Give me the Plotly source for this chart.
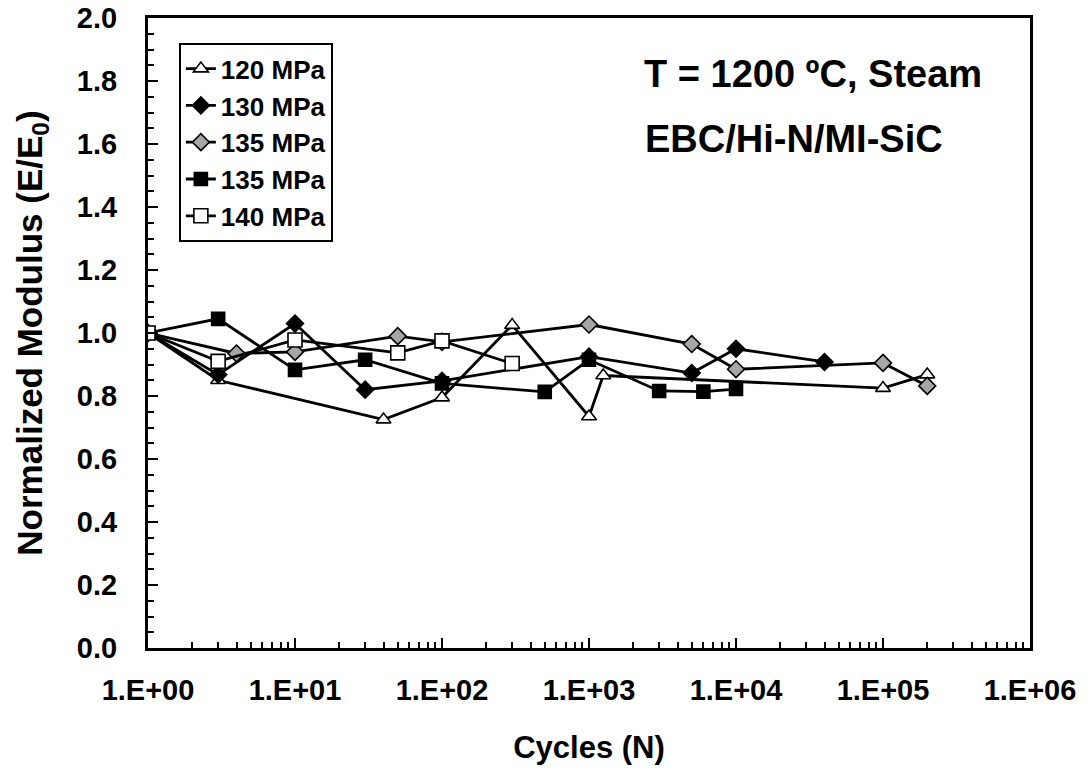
import plotly.graph_objects as go

# Normalized modulus vs. cycles for EBC/Hi-N/MI-SiC at 1200 °C in steam
cycles_120 = [1, 3, 40, 100, 300, 1000, 1250, 100000, 200000]
mod_120 = [1.0, 0.85, 0.725, 0.795, 1.025, 0.735, 0.865, 0.825, 0.868]

cycles_130 = [1, 3, 10, 30, 100, 1000, 5000, 10000, 40000]
mod_130 = [1.0, 0.868, 1.03, 0.82, 0.848, 0.925, 0.873, 0.95, 0.908]

cycles_135a = [1, 4, 10, 50, 100, 1000, 5000, 10000, 100000, 200000]
mod_135a = [1.0, 0.935, 0.94, 0.99, 0.972, 1.027, 0.965, 0.885, 0.905, 0.832]

cycles_135b = [1, 3, 10, 30, 100, 500, 1000, 3000, 6000, 10000]
mod_135b = [1.0, 1.045, 0.883, 0.915, 0.84, 0.813, 0.915, 0.816, 0.814, 0.822]

cycles_140 = [1, 3, 10, 50, 100, 300]
mod_140 = [1.0, 0.91, 0.978, 0.937, 0.975, 0.903]

x_tick_vals = [1, 10, 100, 1000, 10000, 100000, 1000000]
x_tick_text = ["1.E+00", "1.E+01", "1.E+02", "1.E+03", "1.E+04", "1.E+05", "1.E+06"]
y_tick_vals = [0.0, 0.2, 0.4, 0.6, 0.8, 1.0, 1.2, 1.4, 1.6, 1.8, 2.0]
y_tick_text = ["0.0", "0.2", "0.4", "0.6", "0.8", "1.0", "1.2", "1.4", "1.6", "1.8", "2.0"]

FONT = "Arial, Liberation Sans, sans-serif"

series = [
    ("120 MPa", cycles_120, mod_120, "triangle-up", "white", 13),
    ("130 MPa", cycles_130, mod_130, "diamond", "black", 13),
    ("135 MPa", cycles_135a, mod_135a, "diamond", "#a6a6a6", 13),
    ("135 MPa", cycles_135b, mod_135b, "square", "black", 13),
    ("140 MPa", cycles_140, mod_140, "square", "white", 14),
]

fig = go.Figure()
for name, xs, ys, sym, fill, size in series:
    fig.add_trace(go.Scatter(
        x=xs, y=ys, name=name, mode="lines+markers",
        line=dict(color="black", width=2.8),
        marker=dict(symbol=sym, size=size, color=fill,
                    line=dict(color="black", width=1.6)),
    ))

minor_x = [k * 10 ** d for d in range(6) for k in range(2, 10)]

fig.update_layout(
    width=1091, height=773,
    margin=dict(l=148, r=61, t=18, b=125),
    paper_bgcolor="white", plot_bgcolor="white",
    font=dict(family=FONT, size=30, color="black", weight="bold"),
    showlegend=True,
    legend=dict(
        x=0.035, y=0.96, xanchor="left", yanchor="top",
        bgcolor="white", bordercolor="black", borderwidth=2,
        font=dict(family=FONT, size=26, color="black", weight="bold"),
        tracegroupgap=0, itemwidth=30,
    ),
    xaxis=dict(
        type="log", range=[0, 6], automargin=False,
        tickmode="array", tickvals=x_tick_vals, ticktext=x_tick_text,
        ticks="inside", ticklen=10, tickwidth=2, tickcolor="black",
        ticklabelstandoff=14,
        showline=True, linewidth=3, linecolor="black", mirror=True,
        showgrid=False, zeroline=False,
        tickfont=dict(family=FONT, size=29, weight="bold"),
        title=dict(text="Cycles (N)", standoff=32,
                   font=dict(family=FONT, size=31, weight="bold")),
        minor=dict(tickmode="array", tickvals=minor_x, ticks="inside",
                   ticklen=6, tickwidth=2, tickcolor="black", showgrid=False),
    ),
    yaxis=dict(
        range=[0, 2.0], automargin=False,
        tickmode="array", tickvals=y_tick_vals, ticktext=y_tick_text,
        ticks="inside", ticklen=10, tickwidth=2, tickcolor="black",
        ticklabelstandoff=22,
        showline=True, linewidth=3, linecolor="black", mirror=True,
        showgrid=False, zeroline=False,
        tickfont=dict(family=FONT, size=29, weight="bold"),
        title=dict(text="Normalized Modulus (E/E<sub>0</sub>)", standoff=24,
                   font=dict(family=FONT, size=35, weight="bold")),
        minor=dict(dtick=0.05, ticks="inside", ticklen=6, tickwidth=2,
                   tickcolor="black", showgrid=False),
    ),
    annotations=[
        dict(text="T = 1200 ºC, Steam", x=0.754, y=0.911, xref="paper", yref="paper",
             xanchor="center", yanchor="middle",
             showarrow=False, font=dict(family=FONT, size=38, weight="bold")),
        dict(text="EBC/Hi-N/MI-SiC", x=0.732, y=0.808, xref="paper", yref="paper",
             xanchor="center", yanchor="middle",
             showarrow=False, font=dict(family=FONT, size=38, weight="bold")),
    ],
)

fig.write_html("out.html")
